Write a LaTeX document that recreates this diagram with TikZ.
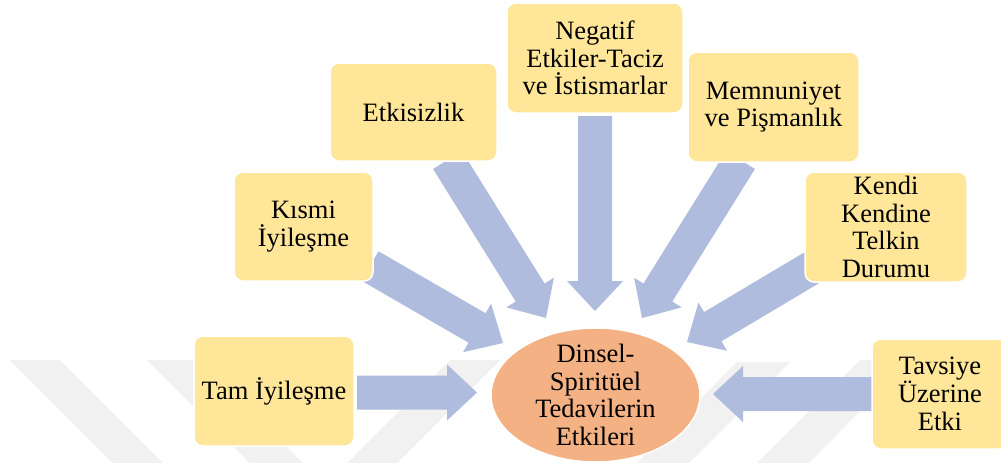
\documentclass[tikz,border=0pt]{standalone}
\usepackage{fontspec}
\setmainfont{Liberation Serif}
\usetikzlibrary{calc,shapes.geometric}

\definecolor{boxfill}{HTML}{FFE699}
\definecolor{ovalfill}{HTML}{F4B183}
\definecolor{arrowfill}{HTML}{AFBCDD}
\definecolor{markgray}{HTML}{F1F1F1}

\tikzset{
  label font/.style={font=\fontsize{26.5}{27.7}\selectfont},
  effectbox/.style={draw=white, line width=1.5pt, fill=boxfill,
    rounded corners=9pt, inner sep=0pt, align=center, label font},
  centre oval/.style={ellipse, draw=white, line width=1.5pt, fill=ovalfill,
    inner sep=0pt},
  centre text/.style={align=center, inner sep=0pt, label font},
  band/.style={fill=markgray},
}

% wide block arrow from tail #1 to tip #2
\newcommand\blockarrow[2]{%
  \coordinate (hb) at ($(#2)!30pt!(#1)$);
  \fill[arrowfill]
    ($(#1)!17pt!90:(#2)$) -- ($(hb)!17pt!90:(#2)$) -- ($(hb)!28pt!90:(#2)$)
    -- (#2)
    -- ($(hb)!28pt!-90:(#2)$) -- ($(hb)!17pt!-90:(#2)$) -- ($(#1)!17pt!-90:(#2)$)
    -- cycle;}

\begin{document}
\begin{tikzpicture}[x=1pt, y=-1pt]
\useasboundingbox (0,0) rectangle (1001,463);
\clip (0,0) rectangle (1001,463);
\fill[white] (0,0) rectangle (1001,463);

% faint background bands
\fill[band] (10,360) -- (60,360) -- (163,463) -- (113,463) -- cycle;
\fill[band] (147,360) -- (200,360) -- (303,463) -- (250,463) -- cycle;
\fill[band] (450,360) -- (500,360) -- (397,463) -- (347,463) -- cycle;
\fill[band] (737,362) -- (790,362) -- (689,463) -- (637,463) -- cycle;
\fill[band] (860,360) -- (910,360) -- (809,463) -- (757,463) -- cycle;

% arrow end points
\coordinate (tamA) at (357,392.5);    \coordinate (tamB) at (477,392.5);
\coordinate (kisA) at (370,266);      \coordinate (kisB) at (503,343);
\coordinate (etkA) at (447.5,160);    \coordinate (etkB) at (546,318);
\coordinate (negA) at (595,116);      \coordinate (negB) at (595,311);
\coordinate (memA) at (740.5,160);    \coordinate (memB) at (642,318);
\coordinate (kenA) at (813,267);      \coordinate (kenB) at (687,342);
\coordinate (tavA) at (880,394);      \coordinate (tavB) at (713,394);

\blockarrow{tamA}{tamB}
\blockarrow{kisA}{kisB}
\blockarrow{etkA}{etkB}
\blockarrow{negA}{negB}
\blockarrow{memA}{memB}
\blockarrow{kenA}{kenB}
\blockarrow{tavA}{tavB}

% outer effect boxes
\node[effectbox, minimum width=160pt, minimum height=110pt] (tam) at (274,391) {Tam İyileşme};
\node[effectbox, minimum width=139pt, minimum height=109pt] (kismi) at (303.5,226.5) {Kısmi\\İyileşme};
\node[effectbox, minimum width=167pt, minimum height=98pt] (etk) at (413.5,112) {Etkisizlik};
\node[effectbox, minimum width=176pt, minimum height=110pt] (neg) at (595,58) {Negatif\\Etkiler-Taciz\\ve İstismarlar};
\node[effectbox, minimum width=171pt, minimum height=110pt] (mem) at (773.5,107) {Memnuniyet\\ve Pişmanlık};
\node[effectbox, minimum width=162pt, minimum height=110pt] (kendi) at (886,227) {Kendi\\Kendine\\Telkin\\Durumu};
\node[effectbox, minimum width=136pt, minimum height=110pt] (tav) at (940,394) {Tavsiye\\Üzerine\\Etki};

% central oval
\node[centre oval, minimum width=209pt, minimum height=134pt] (goal) at (595.5,395) {};
\node[centre text] (goaltext) at (goal.center) {Dinsel-\\Spiritüel\\Tedavilerin\\Etkileri};
\end{tikzpicture}
\end{document}
